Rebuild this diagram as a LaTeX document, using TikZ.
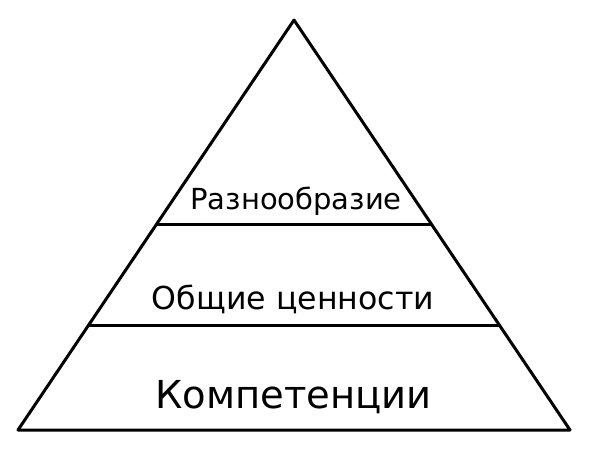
\documentclass[tikz,border=0pt]{standalone}
\usepackage{fontspec}
\setmainfont{DejaVu Sans}
\def\apexx{294}
\def\apexy{20}
\begin{document}
\begin{tikzpicture}[x=1pt,y=-1pt,line width=3pt,line join=round]
  \tikzset{label/.style={anchor=base,inner sep=0pt}}
  \useasboundingbox (0,0) rectangle (591,456);
  \coordinate (top) at (\apexx,\apexy);
  \coordinate (bl) at (18,430);
  \coordinate (br) at (570,430);
  \draw (top) -- (bl) -- (br) -- cycle;
  % levels
  \coordinate (l1) at (156,224);
  \coordinate (r1) at (432,224);
  \coordinate (l2) at (88.5,325);
  \coordinate (r2) at (499.5,325);
  \draw (l1) -- (r1);
  \draw (l2) -- (r2);
  \node[label,font=\fontsize{29}{34}\selectfont] (div) at (296,209) {Разнообразие};
  \node[label,font=\fontsize{31.6}{38}\selectfont] (val) at (293,309) {Общие ценности};
  \node[label,font=\fontsize{38.5}{46}\selectfont] (comp) at (293.5,408) {Компетенции};
\end{tikzpicture}
\end{document}
